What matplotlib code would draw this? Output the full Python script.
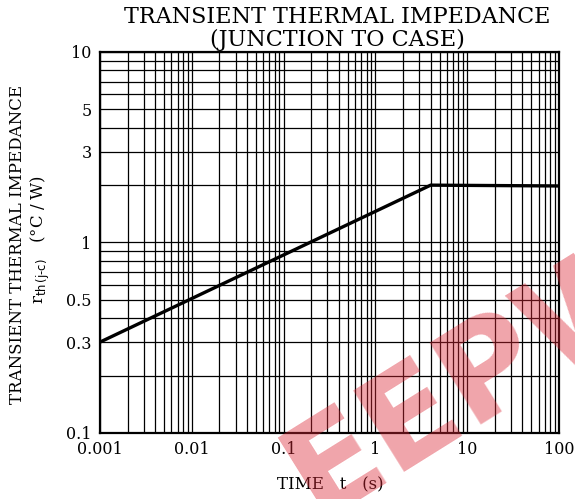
import numpy as np
import matplotlib.pyplot as plt
from matplotlib.ticker import FixedLocator, FixedFormatter, LogLocator, NullFormatter

plt.rcParams['font.family'] = ['DejaVu Serif']

# curve: time (s) vs transient thermal impedance (C/W)
time_s = [0.001, 4.0, 100]
rth = [0.3, 2.0, 1.98]

xticks = [0.001, 0.01, 0.1, 1, 10, 100]
xlabels = ['0.001', '0.01', '0.1', '1', '10', '100']
yticks = [0.1, 0.3, 0.5, 1, 3, 5, 10]
ylabels = ['0.1', '0.3', '0.5', '1', '3', '5', '10']

fig = plt.figure(figsize=(5.75, 4.99), dpi=100)
ax = fig.add_axes([0.1739, 0.1323, 0.7983, 0.7635])

ax.set_xscale('log')
ax.set_yscale('log')
ax.set_xlim(0.001, 100)
ax.set_ylim(0.1, 10)

ax.xaxis.set_major_locator(FixedLocator(xticks))
ax.xaxis.set_major_formatter(FixedFormatter(xlabels))
ax.yaxis.set_major_locator(FixedLocator(yticks))
ax.yaxis.set_major_formatter(FixedFormatter(ylabels))
ax.xaxis.set_minor_locator(LogLocator(base=10, subs=np.arange(2, 10)))
ax.xaxis.set_minor_formatter(NullFormatter())
ax.yaxis.set_minor_locator(LogLocator(base=10, subs=np.arange(2, 10)))
ax.yaxis.set_minor_formatter(NullFormatter())

ax.grid(True, which='both', color='black', lw=0.9)
ax.tick_params(which='both', length=0, labelsize=11.5)
ax.tick_params(axis='x', pad=6)
ax.tick_params(axis='y', pad=6)
# y labels sit slightly above their lines in the original
for lbl in ax.get_yticklabels():
    lbl.set_va('center_baseline')
for s in ax.spines.values():
    s.set_linewidth(1.6)

ax.plot(time_s, rth, color='black', lw=2.4, solid_joinstyle='miter')

fig.text(0.587, 0.966, 'TRANSIENT THERMAL IMPEDANCE', ha='center', va='center', fontsize=16)
fig.text(0.587, 0.92, '(JUNCTION TO CASE)', ha='center', va='center', fontsize=16)

fig.text(0.03, 0.51, 'TRANSIENT THERMAL IMPEDANCE', rotation=90, ha='center', va='center', fontsize=12)
fig.text(0.07, 0.52, r'r$_{\mathrm{th\,(j\text{-}c)}}$   (°C / W)', rotation=90,
         ha='center', va='center', fontsize=12)
fig.text(0.575, 0.028, 'TIME   t   (s)', ha='center', va='center', fontsize=12)

# watermark (cut off at the edge, as in the original)
fig.text(0.55, -0.04, 'EEPW', rotation=32, rotation_mode='anchor', ha='left', va='baseline',
         fontsize=95, fontweight='heavy', color='#dc2836', alpha=0.42, family='DejaVu Sans')

fig.savefig('out.png', dpi=100)
